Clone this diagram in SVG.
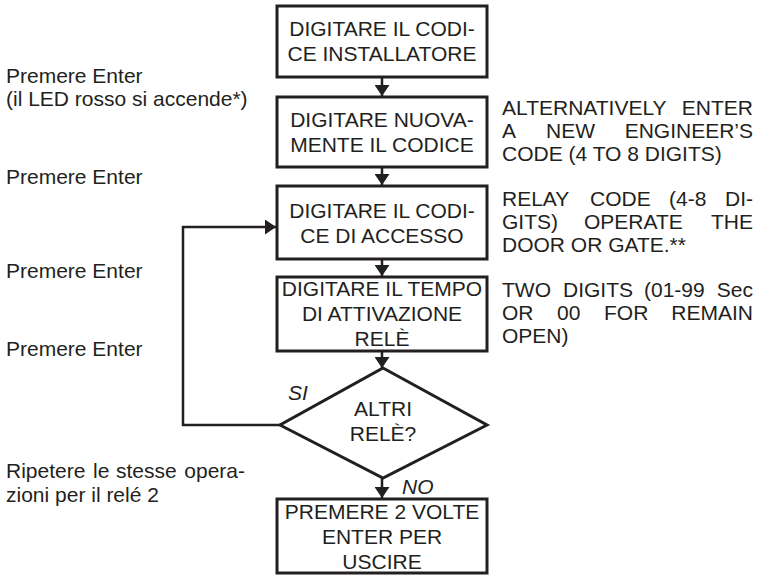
<svg xmlns="http://www.w3.org/2000/svg" width="758" height="575" viewBox="0 0 758 575">
<style>
  .box { fill: #fff; stroke: #231f20; stroke-width: 3; }
  .bt { font-family: "Liberation Sans", Arial, sans-serif; font-size: 21px; fill: #231f20; text-anchor: middle; }
  .t { font-family: "Liberation Sans", Arial, sans-serif; font-size: 21px; fill: #231f20; }
  .e { text-anchor: end; }
  .it { font-style: italic; }
  .ln { fill: none; stroke: #231f20; stroke-width: 2.5; }
</style>
<defs>
  <marker id="ah" viewBox="0 0 11 15" refX="11" refY="7.5" markerWidth="11" markerHeight="15" markerUnits="userSpaceOnUse" orient="auto">
    <path d="M0,0 L11,7.5 L0,15 Z" fill="#231f20"/>
  </marker>
</defs>
<rect width="758" height="575" fill="#fff"/>
<g id="connectors">
  <line class="ln" x1="382" y1="77" x2="382" y2="96" marker-end="url(#ah)"/>
  <line class="ln" x1="382" y1="167" x2="382" y2="185" marker-end="url(#ah)"/>
  <line class="ln" x1="382" y1="259" x2="382" y2="276" marker-end="url(#ah)"/>
  <line class="ln" x1="382" y1="351" x2="382" y2="368" marker-end="url(#ah)"/>
  <line class="ln" x1="382" y1="478" x2="382" y2="498" marker-end="url(#ah)"/>
  <polyline class="ln" points="280,425 183,425 183,227 276,227" marker-end="url(#ah)"/>
</g>
<g id="n1">
  <rect class="box" x="277" y="6" width="210" height="71"/>
  <text class="bt" x="382" y="36">DIGITARE IL CODI-</text>
  <text class="bt" x="382" y="61">CE INSTALLATORE</text>
</g>
<g id="n2">
  <rect class="box" x="277" y="97" width="210" height="70"/>
  <text class="bt" x="382" y="127">DIGITARE NUOVA-</text>
  <text class="bt" x="382" y="152">MENTE IL CODICE</text>
</g>
<g id="n3">
  <rect class="box" x="277" y="186" width="210" height="73"/>
  <text class="bt" x="382" y="218">DIGITARE IL CODI-</text>
  <text class="bt" x="382" y="243">CE DI ACCESSO</text>
</g>
<g id="n4">
  <rect class="box" x="277" y="277" width="210" height="74"/>
  <text class="bt" x="382" y="296">DIGITARE IL TEMPO</text>
  <text class="bt" x="382" y="321">DI ATTIVAZIONE</text>
  <text class="bt" x="382" y="346">RELÈ</text>
</g>
<g id="n5">
  <polygon class="box" points="383,368 487,425 383,478 280,425"/>
  <text class="bt" x="383" y="416">ALTRI</text>
  <text class="bt" x="383" y="441">RELÈ?</text>
</g>
<g id="n6">
  <rect class="box" x="277" y="499" width="210" height="74"/>
  <text class="bt" x="382" y="519">PREMERE 2 VOLTE</text>
  <text class="bt" x="382" y="544">ENTER PER</text>
  <text class="bt" x="382" y="569">USCIRE</text>
</g>
<g id="labels">
  <text class="t it" x="288" y="400">SI</text>
  <text class="t it" x="402" y="494">NO</text>
  <text class="t" x="6" y="83">Premere Enter</text>
  <text class="t" x="6" y="106">(il LED rosso si accende*)</text>
  <text class="t" x="6" y="184">Premere Enter</text>
  <text class="t" x="6" y="278">Premere Enter</text>
  <text class="t" x="6" y="356">Premere Enter</text>
  <text class="t" x="6" y="478">Ripetere</text>
  <text class="t" x="93" y="478">le</text>
  <text class="t" x="116" y="478">stesse</text>
  <text class="t e" x="245" y="478">opera-</text>
  <text class="t" x="6" y="502">zioni per il relé 2</text>
  <text class="t" x="502" y="115">ALTERNATIVELY</text>
  <text class="t e" x="753" y="115">ENTER</text>
  <text class="t" x="502" y="138">A</text>
  <text class="t" x="546" y="138">NEW</text>
  <text class="t e" x="753" y="138">ENGINEER’S</text>
  <text class="t" x="502" y="161">CODE (4 TO 8 DIGITS)</text>
  <text class="t" x="502" y="206">RELAY</text>
  <text class="t" x="590" y="206">CODE</text>
  <text class="t" x="669" y="206">(4-8</text>
  <text class="t e" x="753" y="206">DI-</text>
  <text class="t" x="502" y="229">GITS)</text>
  <text class="t" x="584" y="229">OPERATE</text>
  <text class="t e" x="753" y="229">THE</text>
  <text class="t" x="502" y="252">DOOR OR GATE.**</text>
  <text class="t" x="502" y="297">TWO</text>
  <text class="t" x="563" y="297">DIGITS</text>
  <text class="t" x="644" y="297">(01-99</text>
  <text class="t e" x="753" y="297">Sec</text>
  <text class="t" x="502" y="320">OR</text>
  <text class="t" x="557" y="320">00</text>
  <text class="t" x="604" y="320">FOR</text>
  <text class="t e" x="753" y="320">REMAIN</text>
  <text class="t" x="502" y="343">OPEN)</text>
</g>
</svg>
